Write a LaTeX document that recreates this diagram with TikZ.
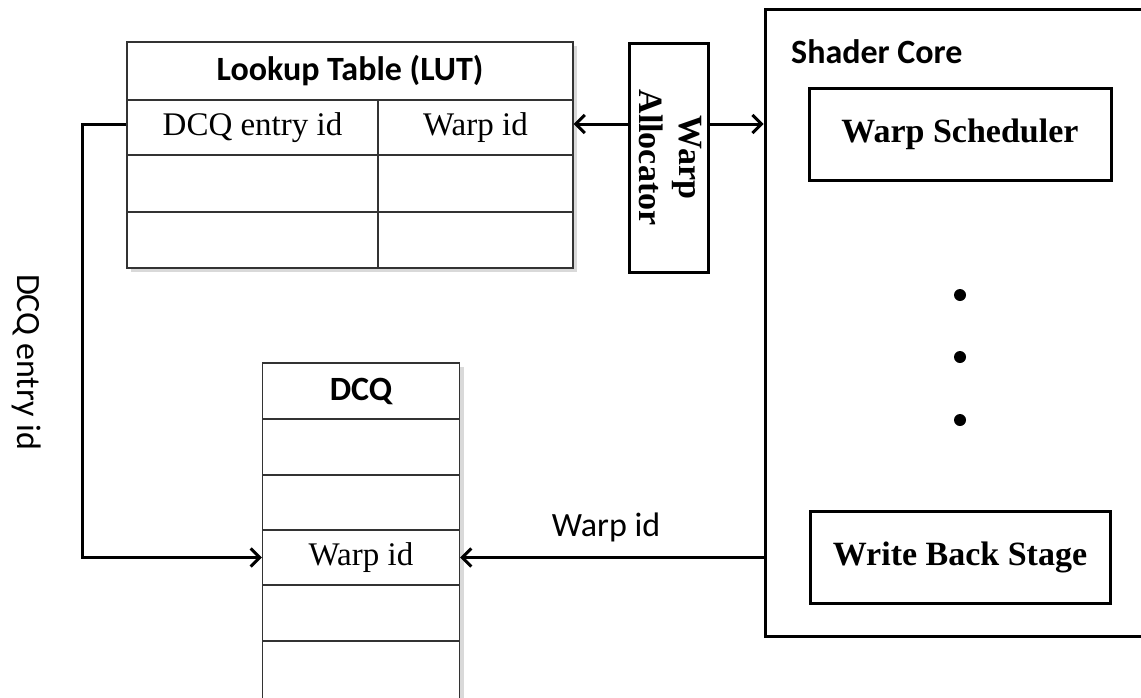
\documentclass[tikz,border=0pt]{standalone}
\usepackage{fontspec}
\setmainfont{Liberation Serif}
\newfontfamily\calibri{Carlito}
\usetikzlibrary{arrows.meta}
\begin{document}
\begin{tikzpicture}[x=1pt,y=-1pt,
  >={Straight Barb[length=9pt,width=18pt]},
  cell/.style={draw=black!80, line width=1.3pt, fill=white, inner sep=0pt},
  serifcell/.style={cell, font=\fontsize{33}{37}\selectfont},
  sanstitle/.style={cell, font=\calibri\bfseries\fontsize{34}{38}\selectfont},
  thickbox/.style={draw=black, line width=3pt, fill=white, inner sep=0pt},
  boldserif/.style={font=\bfseries\fontsize{34}{38}\selectfont},
  sanslabel/.style={inner sep=0pt, font=\calibri\fontsize{34}{38}\selectfont},
  conn/.style={draw=black, line width=3pt},
  shadowfill/.style={fill=black!15}]
\clip (0,0) rectangle (1141,697);
\fill[white] (0,0) rectangle (1141,697);

% ---------- Lookup table ----------
\fill[shadowfill] (131,46) rectangle (577,272);
\node[sanstitle, minimum width=446pt, minimum height=58pt] (luttitle) at (350,71) {Lookup Table (LUT)};
\node[serifcell, minimum width=251pt, minimum height=55pt] (lutl1) at (252.5,127.5) {DCQ entry id};
\node[serifcell, minimum width=195pt, minimum height=55pt] (lutr1) at (475.5,127.5) {Warp id};
\node[cell, minimum width=251pt, minimum height=57pt] (lutl2) at (252.5,183.5) {};
\node[cell, minimum width=195pt, minimum height=57pt] (lutr2) at (475.5,183.5) {};
\node[cell, minimum width=251pt, minimum height=56pt] (lutl3) at (252.5,240) {};
\node[cell, minimum width=195pt, minimum height=56pt] (lutr3) at (475.5,240) {};

% ---------- DCQ ----------
\fill[shadowfill] (266,367) rectangle (464,700);
\node[sanstitle, minimum width=197pt, minimum height=56pt] (dcq0) at (361,391) {DCQ};
\node[cell, minimum width=197pt, minimum height=56pt] (dcq1) at (361,447) {};
\node[cell, minimum width=197pt, minimum height=55pt] (dcq2) at (361,502.5) {};
\node[serifcell, minimum width=197pt, minimum height=55pt] (dcq3) at (361,557.5) {Warp id};
\node[cell, minimum width=197pt, minimum height=56pt] (dcq4) at (361,613) {};
\node[cell, minimum width=197pt, minimum height=58pt] (dcq5) at (361,670) {};

% ---------- Warp allocator ----------
\node[thickbox, minimum width=79pt, minimum height=229pt] (wa) at (668.5,157.5) {};
\node[rotate=-90, align=center, inner sep=0pt,
      font=\bfseries\fontsize{34}{40}\selectfont] (watext) at ([xshift=2pt]wa.center) {Warp\\Allocator};

% ---------- Shader core ----------
\node[thickbox, minimum width=385pt, minimum height=627pt] (core) at (957.5,322.5) {};
\node[anchor=west, inner sep=0pt, font=\calibri\bfseries\fontsize{34}{38}\selectfont] (coretitle) at (791,52) {Shader Core};
\node[thickbox, boldserif, minimum width=302pt, minimum height=92pt] (sched) at (960,134) {Warp Scheduler};
\node[thickbox, boldserif, minimum width=300pt, minimum height=92pt] (wbs) at (960,557) {Write Back Stage};
\fill (960,295) circle (6);
\fill (960,357) circle (6);
\fill (960,420) circle (6);

% ---------- Connectors ----------
\draw[conn,->] (wa.west |- 0,124) -- (lutr1.east |- 0,124);
\draw[conn,->] (wa.east |- 0,124) -- (core.west |- 0,124);
\draw[conn,->] (core.west |- dcq3.east) -- (dcq3.east);
\node[sanslabel] (wlabel) at (606,527) {Warp id};
\draw[conn,->] (lutl1.west |- 0,124) -- (82,124) |- (dcq3.west);
\node[sanslabel, rotate=-90] (dcqlabel) at (27,362) {DCQ entry id};
\end{tikzpicture}
\end{document}
